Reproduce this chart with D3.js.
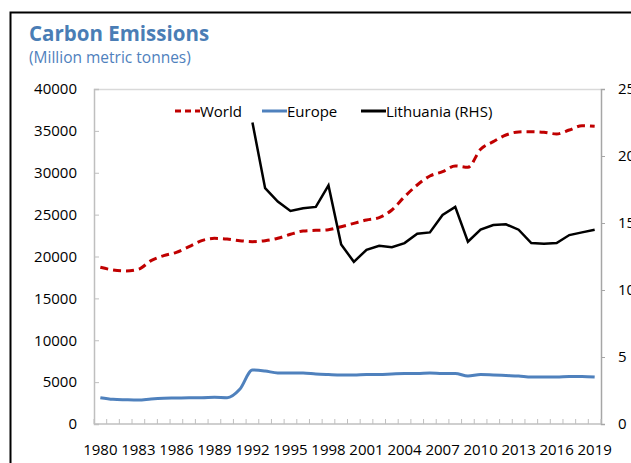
<!DOCTYPE html>
<html>
<head>
<meta charset="utf-8">
<script src="https://cdn.jsdelivr.net/npm/d3@7"></script>
<style>
  body { margin: 0; background: #fff; }
  text { font-family: "Open Sans", "Noto Sans", sans-serif; }
</style>
</head>
<body>
<div id="chart"></div>
<script>
// data
const years = d3.range(1980, 2020);
const world = [18710, 18390, 18270, 18470, 19500, 20100, 20500, 21170, 21890, 22170,
  22090, 21890, 21770, 21890, 22170, 22650, 23040, 23120, 23200, 23560,
  23960, 24360, 24640, 25550, 27140, 28540, 29610, 30130, 30810, 30650,
  32800, 33710, 34510, 34870, 34900, 34830, 34630, 35100, 35620, 35540];
const europe = [3140, 2950, 2900, 2870, 2990, 3070, 3100, 3140, 3140, 3180,
  3140, 4140, 6450, 6330, 6100, 6100, 6100, 5970, 5900, 5850,
  5850, 5900, 5900, 5970, 6030, 6030, 6100, 6030, 6030, 5730,
  5900, 5850, 5790, 5730, 5610, 5610, 5610, 5670, 5670, 5610];
// Lithuania starts in 1992 (right hand scale)
const lithuania = [null, null, null, null, null, null, null, null, null, null,
  null, null, 22.5, 17.6, 16.6, 15.9, 16.1, 16.2, 17.8, 13.4,
  12.1, 13.0, 13.3, 13.2, 13.5, 14.2, 14.3, 15.6, 16.2, 13.6,
  14.5, 14.85, 14.9, 14.5, 13.5, 13.45, 13.5, 14.1, 14.3, 14.5];
const leftTicks = [0, 5000, 10000, 15000, 20000, 25000, 30000, 35000, 40000];
const rightTicks = [0, 5, 10, 15, 20, 25];
const yearLabels = years.filter(y => (y - 1980) % 3 === 0);

const W = 631, H = 463;
const margin = { top: 89, right: 30, bottom: 39, left: 94 },
  width = 601 - margin.left,
  height = 424 - margin.top;

const svg = d3.select("#chart")
  .append("svg")
  .attr("width", W)
  .attr("height", H);

// outer frame (runs off the picture on the right and bottom)
svg.append("rect")
  .attr("x", 10.5).attr("y", 12.5)
  .attr("width", W).attr("height", H)
  .attr("fill", "none")
  .attr("stroke", "#000")
  .attr("stroke-width", 2);

// title
svg.append("text")
  .attr("x", 29).attr("y", 41)
  .style("font-size", "20.5px")
  .style("font-weight", "bold")
  .style("fill", "#4a7db5")
  .text("Carbon Emissions");

svg.append("text")
  .attr("x", 29).attr("y", 63)
  .style("font-size", "15.5px")
  .style("fill", "#4f81bd")
  .text("(Million metric tonnes)");

const g = svg.append("g")
  .attr("transform", "translate(" + margin.left + "," + margin.top + ")");

// scales
const x = d3.scaleBand()
  .domain(years)
  .range([0, width]);

const y = d3.scaleLinear()
  .domain([0, 40000])
  .range([height, 0]);

const y2 = d3.scaleLinear()
  .domain([0, 25])
  .range([height, 0]);

const cx = d => x(d) + x.bandwidth() / 2;

// plot area top border
g.append("line")
  .attr("x1", 0).attr("x2", width)
  .attr("y1", 0.5).attr("y2", 0.5)
  .attr("stroke", "#d9d9d9")
  .attr("stroke-width", 1.5);

// left axis, ticks pointing inward
const yAxis = g.append("g")
  .call(d3.axisLeft(y).tickValues(leftTicks).tickSize(-5).tickPadding(17).tickFormat(d3.format("d")));
yAxis.select(".domain").attr("stroke", "#bfbfbf").attr("stroke-width", 1.5);
yAxis.selectAll(".tick line").attr("stroke", "#bfbfbf");
yAxis.selectAll("text").style("font-size", "15px").style("fill", "#000")
  .style("font-family", '"Open Sans", sans-serif');

// right axis
const y2Axis = g.append("g")
  .attr("transform", "translate(" + width + ",0)")
  .call(d3.axisRight(y2).tickValues(rightTicks).tickSize(4).tickPadding(13));
y2Axis.select(".domain").attr("stroke", "#a6a6a6").attr("stroke-width", 1.5);
y2Axis.selectAll(".tick line").attr("stroke", "#a6a6a6");
y2Axis.selectAll("text").style("font-size", "15px").style("fill", "#000")
  .style("font-family", '"Open Sans", sans-serif');

// bottom axis: tick marks on band edges, labels every third year
const bx = g.append("g")
  .attr("transform", "translate(0," + height + ")");
bx.append("line")
  .attr("x1", 0).attr("x2", width)
  .attr("stroke", "#bfbfbf").attr("stroke-width", 1.5);
bx.selectAll(".edge")
  .data(years.concat([2020]))
  .enter().append("line")
  .attr("class", "edge")
  .attr("x1", d => d === 2020 ? width : x(d))
  .attr("x2", d => d === 2020 ? width : x(d))
  .attr("y1", 0).attr("y2", -5)
  .attr("stroke", "#bfbfbf");
bx.selectAll(".lbl")
  .data(yearLabels)
  .enter().append("text")
  .attr("class", "lbl")
  .attr("x", d => cx(d))
  .attr("y", 31)
  .attr("text-anchor", "middle")
  .style("font-size", "15px")
  .text(d => d);

// lines
const worldLine = d3.line()
  .x((d, i) => cx(years[i]))
  .y(d => y(d))
  .curve(d3.curveMonotoneX);

g.append("path")
  .datum(world)
  .attr("d", worldLine)
  .attr("fill", "none")
  .attr("stroke", "#c00000")
  .attr("stroke-width", 3)
  .attr("stroke-dasharray", "8,5");

g.append("path")
  .datum(europe)
  .attr("d", worldLine)
  .attr("fill", "none")
  .attr("stroke", "#4f81bd")
  .attr("stroke-width", 3);

const ltLine = d3.line()
  .defined(d => d !== null)
  .x((d, i) => cx(years[i]))
  .y(d => y2(d));

g.append("path")
  .datum(lithuania)
  .attr("d", ltLine)
  .attr("fill", "none")
  .attr("stroke", "#000")
  .attr("stroke-width", 2.5)
  .attr("stroke-linejoin", "miter");

// legend
const legendItems = [
  { name: "World", color: "#c00000", dash: "6,4", x: 175 },
  { name: "Europe", color: "#4f81bd", dash: null, x: 262 },
  { name: "Lithuania (RHS)", color: "#000", dash: null, x: 361 }
];
const legend = svg.append("g");
legendItems.forEach(function (d) {
  legend.append("line")
    .attr("x1", d.x).attr("x2", d.x + 25)
    .attr("y1", 111).attr("y2", 111)
    .attr("stroke", d.color)
    .attr("stroke-width", 3)
    .attr("stroke-dasharray", d.dash);
  legend.append("text")
    .attr("x", d.x + 25).attr("y", 116.5)
    .style("font-size", "15px")
    .text(d.name);
});
</script>
</body>
</html>
